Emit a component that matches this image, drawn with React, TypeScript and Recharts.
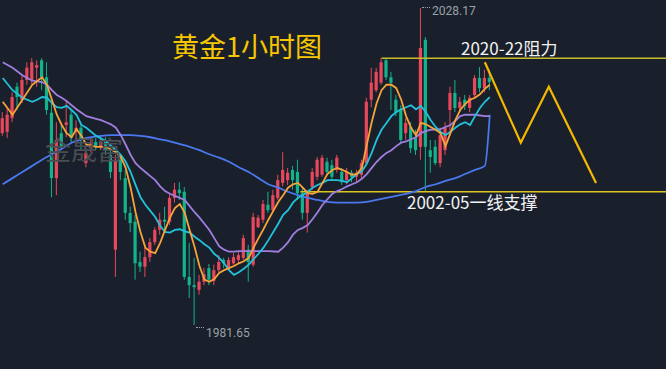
import React from 'react';
import { ComposedChart, Bar, Line, XAxis, YAxis, ReferenceLine } from 'recharts';

const W = 666;
const H = 369;
const BG = '#19202b';
const UP = '#e8485b';
const DOWN = '#13b38b';

// 1h gold candles, oldest first
const opens = [
  2009.8, 2010.0, 2012.0, 2016.6, 2014.7, 2017.6, 2017.6, 2019.4, 2020.5, 2018.0,
  2012.8, 2003.2, 2009.8, 2011.0, 2012.5, 2010.0, 2010.6, 2005.4, 2007.6, 2008.5,
  2007.8, 2008.8, 2006.6, 1992.7, 2005.9, 2003.2, 1998.1, 1996.8, 1990.9, 1990.2,
  1991.6, 1993.8, 1995.6, 1997.1, 1996.8, 2000.3, 2001.5, 2001.2, 1988.7, 1987.5,
  1986.8, 1988.0, 1990.0, 1988.1, 1989.7, 1991.2, 1990.0, 1990.7, 1991.2, 1991.5,
  1992.7, 1990.5, 1996.0, 1997.1, 1999.3, 1998.5, 2000.3, 2002.5, 2002.9, 2004.4,
  2004.1, 2001.0, 1998.1, 2001.9, 2003.4, 2003.7, 2005.6, 2005.1, 2004.4, 2004.1,
  2002.9, 2004.0, 2003.4, 2003.7, 2005.4, 2014.7, 2016.1, 2017.2, 2020.5, 2018.0,
  2014.7, 2013.2, 2009.8, 2010.7, 2009.2, 2007.8, 2023.5, 2007.3, 2007.8, 2005.4,
  2007.3, 2013.2, 2015.7, 2013.5, 2014.7, 2013.5, 2015.4, 2017.9, 2016.4, 2017.9,
];
const closes = [
  2012.0, 2012.5, 2015.1, 2015.1, 2017.6, 2019.4, 2020.2, 2019.8, 2018.0, 2013.2,
  2003.2, 2008.8, 2007.8, 2011.4, 2009.1, 2010.6, 2008.8, 2006.9, 2008.4, 2007.9,
  2008.5, 2007.3, 2004.1, 2005.9, 2004.1, 1998.1, 1996.6, 1990.7, 1990.2, 1991.6,
  1993.8, 1995.6, 1997.1, 1996.8, 2000.3, 2001.5, 2001.0, 1988.7, 1987.5, 1987.2,
  1988.0, 1989.1, 1988.3, 1989.7, 1990.9, 1990.7, 1991.2, 1991.6, 1991.9, 1994.4,
  1990.9, 1997.5, 1997.4, 1999.4, 1998.5, 2000.7, 2002.9, 2004.4, 2004.0, 2002.9,
  2001.0, 1998.1, 2001.0, 2004.1, 2005.9, 2006.2, 2004.1, 2003.4, 2006.2, 2002.6,
  2004.1, 2003.4, 2004.0, 2005.4, 2014.4, 2017.2, 2018.8, 2020.2, 2018.0, 2017.2,
  2012.8, 2008.8, 2011.3, 2007.6, 2007.3, 2022.3, 2007.8, 2006.3, 2005.4, 2009.5,
  2010.6, 2015.7, 2013.5, 2014.4, 2013.8, 2015.0, 2017.9, 2016.4, 2017.9, 2017.3,
];
const highs = [
  2012.9, 2013.5, 2015.8, 2017.2, 2018.2, 2020.2, 2020.8, 2020.5, 2020.8, 2020.2,
  2014.2, 2011.4, 2011.0, 2014.7, 2013.2, 2011.7, 2011.0, 2007.6, 2009.1, 2009.1,
  2009.4, 2009.2, 2007.3, 2006.6, 2006.3, 2004.4, 1999.0, 1997.8, 1992.4, 1993.0,
  1994.4, 1996.0, 1998.1, 1999.0, 2001.0, 2002.5, 2002.6, 2001.9, 1993.7, 1991.5,
  1989.0, 1990.0, 1990.6, 1990.5, 1991.9, 1991.5, 1991.6, 1992.2, 1992.4, 1994.9,
  1993.4, 1998.1, 1997.8, 2000.0, 2001.2, 2001.5, 2003.7, 2007.0, 2004.7, 2005.0,
  2005.9, 2001.8, 2001.5, 2004.7, 2006.3, 2006.6, 2006.2, 2005.9, 2006.6, 2004.7,
  2004.7, 2004.4, 2004.4, 2005.9, 2015.0, 2019.4, 2019.4, 2020.8, 2020.8, 2018.8,
  2015.4, 2013.9, 2012.0, 2011.4, 2010.3, 2028.17, 2023.9, 2008.8, 2008.8, 2010.6,
  2011.4, 2016.6, 2017.6, 2015.1, 2015.4, 2015.4, 2018.3, 2019.5, 2019.1, 2019.1,
];
const lows = [
  2009.4, 2009.1, 2011.4, 2013.2, 2014.2, 2016.9, 2017.0, 2016.6, 2016.1, 2012.5,
  2000.4, 2000.7, 2007.3, 2009.2, 2008.5, 2008.8, 2007.3, 2004.8, 2007.0, 2007.3,
  2007.3, 2006.6, 2003.2, 1988.7, 2002.9, 1997.1, 1995.3, 1988.3, 1989.4, 1988.7,
  1990.9, 1993.4, 1994.9, 1995.6, 1996.3, 1999.6, 2000.0, 1988.3, 1985.6, 1981.65,
  1986.1, 1987.5, 1987.5, 1987.5, 1989.4, 1990.0, 1989.7, 1990.5, 1990.7, 1991.2,
  1988.0, 1990.2, 1995.9, 1996.6, 1998.1, 1998.1, 2000.0, 2002.0, 2002.2, 2001.5,
  2000.0, 1997.1, 1995.2, 2001.5, 2002.9, 2003.4, 2003.7, 2002.9, 2004.0, 2002.2,
  2002.3, 2002.6, 2002.6, 2003.2, 2005.1, 2013.6, 2015.8, 2016.9, 2017.6, 2013.2,
  2012.3, 2008.4, 2008.8, 2006.9, 2006.6, 2005.9, 2001.2, 2004.0, 2005.1, 2004.8,
  2006.6, 2009.5, 2012.9, 2012.9, 2013.2, 2012.9, 2015.0, 2015.8, 2015.8, 2016.1,
];

// moving averages: [candle index, price]
const maFast: [number, number][] = [
  [0, 2014.4], [2, 2012.5], [4, 2014.7], [6, 2016.9], [8, 2018.0], [9, 2016.9], [10, 2014.7],
  [11, 2012.5], [12, 2011.0], [13, 2009.8], [14, 2009.2], [15, 2010.4], [16, 2009.4], [17, 2008.1],
  [19, 2007.8], [21, 2007.8], [23, 2007.0], [24, 2006.3], [25, 2004.7], [26, 2001.8], [27, 1998.2],
  [28, 1995.3], [29, 1993.0], [30, 1992.4], [31, 1992.2], [32, 1993.7], [33, 1995.6], [34, 1997.4],
  [35, 1998.8], [36, 1999.4], [37, 1998.1], [38, 1995.6], [39, 1993.1], [40, 1990.3], [41, 1988.3],
  [42, 1988.0], [43, 1988.4], [44, 1989.3], [45, 1989.7], [46, 1990.0], [47, 1990.3], [48, 1990.7],
  [49, 1991.0], [50, 1991.5], [51, 1993.0], [52, 1994.4], [53, 1995.7], [54, 1997.1], [55, 1998.4],
  [56, 1999.7], [57, 2000.7], [58, 2001.8], [59, 2002.3], [60, 2002.5], [61, 2001.8], [62, 2001.0],
  [63, 2000.9], [64, 2001.2], [65, 2002.5], [66, 2003.8], [67, 2004.4], [68, 2004.7], [69, 2004.4],
  [70, 2004.1], [71, 2003.7], [72, 2003.8], [73, 2004.7], [74, 2008.1], [75, 2011.4], [76, 2014.2],
  [77, 2016.1], [78, 2016.9], [79, 2016.9], [80, 2016.4], [81, 2014.7], [82, 2012.3], [83, 2010.6],
  [84, 2009.5], [85, 2011.3], [86, 2011.1], [87, 2010.7], [88, 2010.3], [89, 2009.8], [90, 2007.9],
  [91, 2009.8], [92, 2011.7], [93, 2013.2], [94, 2014.1], [95, 2014.7], [96, 2015.0], [97, 2015.5],
  [98, 2016.3], [99, 2016.9],
];
const maMid: [number, number][] = [
  [0, 2017.9], [2, 2016.1], [4, 2015.0], [6, 2014.4], [7, 2014.7], [8, 2015.1], [9, 2015.0],
  [10, 2014.2], [11, 2013.6], [12, 2013.5], [13, 2013.8], [14, 2013.2], [15, 2012.5], [16, 2011.0],
  [17, 2010.6], [19, 2009.4], [21, 2008.6], [23, 2007.3], [24, 2006.6], [25, 2005.6], [26, 2004.1],
  [27, 2002.2], [28, 2000.4], [29, 1999.3], [30, 1998.4], [31, 1997.5], [32, 1996.2], [33, 1995.3],
  [34, 1995.2], [35, 1995.6], [36, 1995.7], [37, 1995.4], [38, 1995.2], [39, 1994.6], [40, 1994.1],
  [41, 1993.5], [42, 1993.0], [43, 1992.1], [44, 1991.5], [45, 1990.7], [46, 1989.7], [47, 1989.0],
  [48, 1989.4], [49, 1989.9], [50, 1990.5], [51, 1991.3], [52, 1992.1], [53, 1993.0], [54, 1994.1],
  [55, 1995.3], [56, 1996.5], [57, 1997.8], [58, 1998.5], [59, 1999.6], [60, 2000.3], [61, 2000.7],
  [62, 2001.2], [63, 2001.8], [64, 2002.2], [65, 2002.5], [66, 2002.9], [67, 2002.9], [68, 2002.9],
  [69, 2002.8], [70, 2002.6], [71, 2003.2], [72, 2003.8], [73, 2004.2], [74, 2005.3], [75, 2006.9],
  [76, 2008.8], [77, 2010.3], [78, 2011.3], [79, 2012.3], [80, 2012.9], [81, 2013.3], [82, 2013.6],
  [83, 2013.9], [84, 2013.3], [85, 2013.8], [86, 2012.9], [87, 2011.7], [88, 2010.7], [89, 2010.0],
  [90, 2009.5], [91, 2010.0], [92, 2010.6], [93, 2011.1], [94, 2011.4], [95, 2011.0], [96, 2012.3],
  [97, 2013.5], [98, 2014.4], [99, 2015.1],
];
const maSlow: [number, number][] = [
  [0, 2020.2], [2, 2019.4], [4, 2018.3], [6, 2017.5], [8, 2017.3], [9, 2016.9], [10, 2016.1],
  [11, 2015.4], [12, 2015.0], [13, 2014.5], [14, 2013.9], [15, 2013.3], [16, 2012.8], [17, 2012.3],
  [19, 2011.9], [20, 2011.7], [21, 2011.4], [22, 2011.1], [23, 2010.6], [24, 2009.5], [25, 2008.1],
  [26, 2006.6], [27, 2005.4], [28, 2004.7], [29, 2004.1], [30, 2003.5], [31, 2002.9], [32, 2002.0],
  [33, 2001.3], [34, 2000.9], [35, 2000.6], [36, 2000.3], [37, 2000.0], [38, 1999.1], [39, 1998.2],
  [40, 1997.4], [41, 1996.5], [42, 1995.6], [43, 1994.4], [44, 1993.2], [45, 1992.7], [46, 1992.4],
  [47, 1992.4], [48, 1992.5], [50, 1992.5], [52, 1992.5], [54, 1992.5], [56, 1992.4], [57, 1993.0],
  [58, 1993.8], [59, 1994.9], [60, 1995.6], [61, 1995.9], [62, 1996.3], [63, 1997.2], [64, 1998.2],
  [65, 1999.3], [66, 2000.1], [67, 2000.9], [68, 2001.3], [69, 2001.6], [70, 2002.0], [71, 2002.3],
  [72, 2002.6], [73, 2003.1], [74, 2003.8], [75, 2004.7], [76, 2005.6], [77, 2006.3], [78, 2006.9],
  [79, 2007.3], [80, 2007.9], [81, 2008.4], [82, 2008.6], [83, 2008.9], [84, 2009.2], [85, 2009.8],
  [86, 2010.1], [87, 2010.3], [89, 2010.4], [90, 2010.7], [91, 2011.0], [92, 2011.6], [93, 2012.3],
  [94, 2012.5], [96, 2012.5], [98, 2012.3], [99, 2012.3],
];
const maLong: [number, number][] = [
  [0, 2002.3], [2, 2003.2], [4, 2004.1], [6, 2005.0], [8, 2005.9], [10, 2006.7], [12, 2007.5],
  [14, 2008.4], [16, 2008.9], [18, 2009.2], [20, 2009.4], [22, 2009.5], [26, 2009.5], [28, 2009.4],
  [30, 2009.2], [32, 2008.9], [34, 2008.6], [36, 2008.2], [38, 2007.8], [40, 2007.3], [42, 2006.7],
  [44, 2006.2], [46, 2005.6], [48, 2004.8], [50, 2004.1], [52, 2003.2], [54, 2002.3], [56, 2001.8],
  [58, 2001.2], [60, 2000.7], [62, 2000.3], [64, 2000.0], [66, 1999.7], [68, 1999.6], [72, 1999.6],
  [74, 1999.7], [76, 2000.0], [78, 2000.3], [80, 2000.6], [82, 2000.9], [84, 2001.3], [86, 2001.9],
  [88, 2002.3], [90, 2002.8], [92, 2003.2], [94, 2003.8], [96, 2004.4], [98, 2005.0], [99, 2012.5],
];

// hand-drawn forecast path
const forecast: [number, number][] = [
  [98, 2020.2], [105.3, 2008.4], [111, 2016.6], [120.6, 2002.5],
];

const resistance = 2020.8;
const support = 2001.2;

const candles = opens.map((o, i) => ({ i, o, c: closes[i], h: highs[i], l: lows[i] }));
const toRows = (pts: [number, number][]) => pts.map(([i, v]) => ({ i, v }));

const Candle = (props: any) => {
  const { x, y, width, height, payload } = props;
  if (!payload || payload.o == null) return null;
  const { o, c, h, l } = payload;
  const top = Math.min(y, y + height);
  const hh = Math.abs(height);
  const cx = x + width / 2;
  const k = h === l ? 0 : hh / (h - l);
  const yo = top + (h - o) * k;
  const yc = top + (h - c) * k;
  const color = c >= o ? UP : DOWN;
  return (
    <g>
      <line x1={cx} x2={cx} y1={top} y2={top + hh} stroke={color} strokeWidth={1} />
      <rect x={cx - 1.6} y={Math.min(yo, yc)} width={3.2} height={Math.max(1, Math.abs(yc - yo))} fill={color} />
    </g>
  );
};

const cjk = '"Noto Sans CJK SC", "Noto Sans", sans-serif';
const narrow = '"Liberation Sans Narrow", Roboto, sans-serif';

export default function App() {
  return (
    <div style={{ position: 'absolute', left: 0, top: 0, width: W, height: H, background: BG, overflow: 'hidden' }}>
      <ComposedChart width={W} height={H} data={candles} margin={{ top: 0, right: 0, bottom: 0, left: 0 }}>
        <XAxis type="number" dataKey="i" domain={[-0.55, 134.82]} hide allowDataOverflow />
        <YAxis type="number" domain={[1975.19, 2029.34]} hide allowDataOverflow />
        <ReferenceLine segment={[{ x: 77, y: resistance }, { x: 134.82, y: resistance }]} stroke="#cbb92c" strokeWidth={1.5} />
        <ReferenceLine segment={[{ x: 60.5, y: support }, { x: 134.82, y: support }]} stroke="#dcc51e" strokeWidth={1.5} />
        <Bar dataKey={(d: any) => [d.l, d.h]} barSize={4} shape={Candle} isAnimationActive={false} />
        <Line data={toRows(maLong)} type="monotone" dataKey="v" stroke="#4a78ef" strokeWidth={1.8} dot={false} activeDot={false} isAnimationActive={false} />
        <Line data={toRows(maSlow)} type="linear" dataKey="v" stroke="#a07edf" strokeWidth={1.8} dot={false} activeDot={false} isAnimationActive={false} />
        <Line data={toRows(maMid)} type="linear" dataKey="v" stroke="#22c2dc" strokeWidth={1.8} dot={false} activeDot={false} isAnimationActive={false} />
        <Line data={toRows(maFast)} type="linear" dataKey="v" stroke="#f6a33a" strokeWidth={1.8} dot={false} activeDot={false} isAnimationActive={false} />
        <Line data={toRows(forecast)} type="linear" dataKey="v" stroke="#f5b800" strokeWidth={2.2} dot={false} activeDot={false} isAnimationActive={false} />
      </ComposedChart>

      <div style={{ position: 'absolute', left: 45, top: 136, fontFamily: cjk, fontSize: 26, lineHeight: '26px', color: '#4b4d52' }}>
        金晟富
      </div>
      <div style={{ position: 'absolute', left: 172, top: 32, fontFamily: cjk, fontSize: 27, lineHeight: '27px', color: '#f7c600' }}>
        黄金1小时图
      </div>
      <div style={{ position: 'absolute', left: 461, top: 39, fontFamily: cjk, fontSize: 17, lineHeight: '17px', color: '#f2f2f2' }}>
        2020-22阻力
      </div>
      <div style={{ position: 'absolute', left: 407, top: 193, fontFamily: cjk, fontSize: 17, lineHeight: '17px', color: '#f2f2f2' }}>
        2002-05一线支撑
      </div>
      <div style={{ position: 'absolute', left: 422, top: 7, width: 8, borderTop: '1px dotted #9aa0a8' }} />
      <div style={{ position: 'absolute', left: 432, top: 5, fontFamily: narrow, fontSize: 12, lineHeight: '12px', color: '#9aa0a8' }}>
        2028.17
      </div>
      <div style={{ position: 'absolute', left: 196, top: 327, width: 8, borderTop: '1px dotted #9aa0a8' }} />
      <div style={{ position: 'absolute', left: 206, top: 327, fontFamily: narrow, fontSize: 12, lineHeight: '12px', color: '#9aa0a8' }}>
        1981.65
      </div>
    </div>
  );
}
